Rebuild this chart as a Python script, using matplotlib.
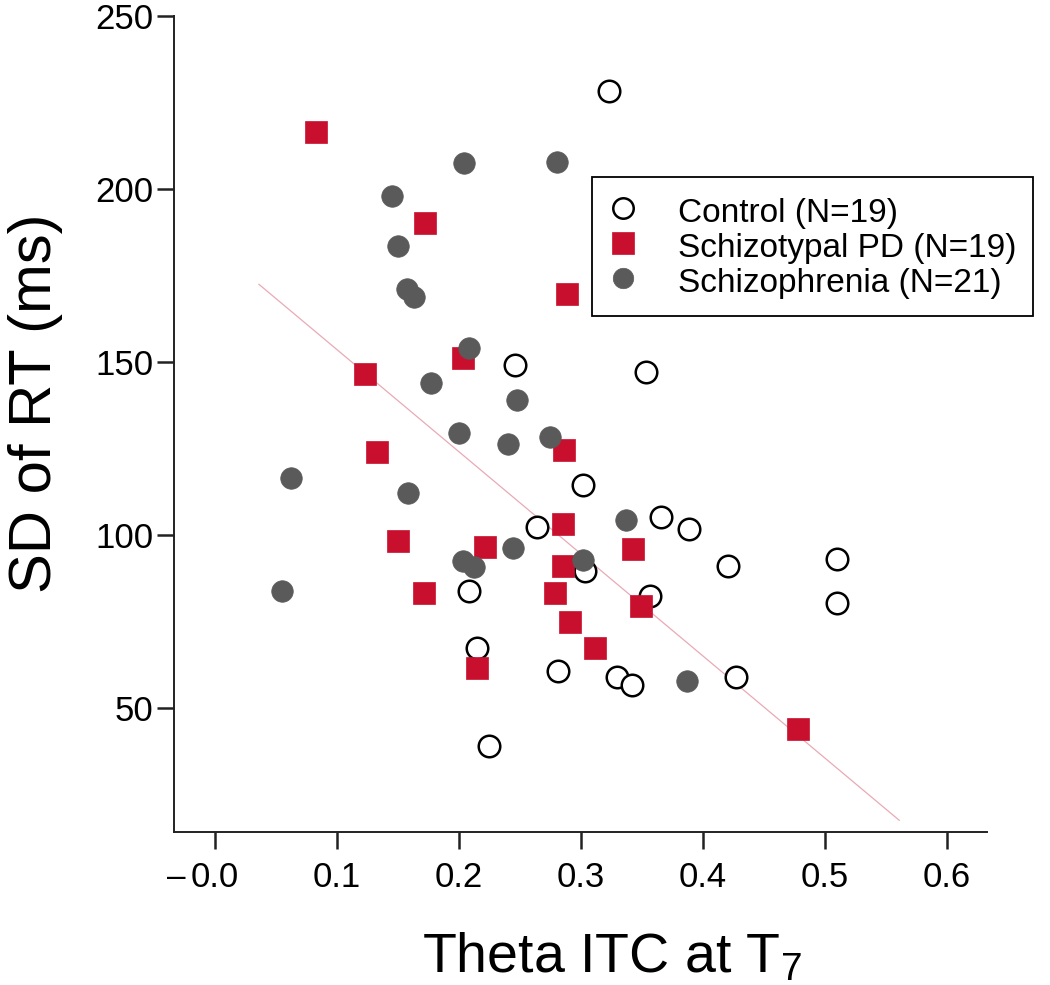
import matplotlib
matplotlib.use('Agg')
import matplotlib.pyplot as plt

plt.rcParams['font.family'] = ['Liberation Sans', 'DejaVu Sans']
plt.rcParams['mathtext.fontset'] = 'custom'
plt.rcParams['mathtext.rm'] = 'Liberation Sans'
plt.rcParams['mathtext.it'] = 'Liberation Sans'

# Theta ITC at T7 (x) vs SD of RT in ms (y)
ctrl_x = [0.323, 0.353, 0.246, 0.302, 0.264, 0.303, 0.2085, 0.215, 0.281, 0.225,
          0.366, 0.389, 0.421, 0.510, 0.510, 0.357, 0.330, 0.342, 0.427]
ctrl_y = [228.2, 147.1, 149.1, 114.4, 102.2, 89.5, 83.8, 67.4, 60.8, 39.0,
          105.3, 101.7, 91.1, 93.0, 80.4, 82.4, 58.9, 56.8, 59.0]

spd_x = [0.083, 0.172, 0.289, 0.2035, 0.123, 0.286, 0.1325, 0.285, 0.150, 0.221,
         0.2855, 0.171, 0.279, 0.291, 0.3115, 0.215, 0.343, 0.349, 0.478]
spd_y = [216.3, 190.2, 169.5, 151.2, 146.4, 124.5, 123.9, 103.1, 98.3, 96.6,
         91.1, 83.3, 83.1, 74.9, 67.3, 61.5, 95.9, 79.6, 44.1]

scz_x = [0.204, 0.280, 0.145, 0.150, 0.157, 0.163, 0.208, 0.177, 0.248, 0.200,
         0.240, 0.275, 0.062, 0.158, 0.2445, 0.2035, 0.2126, 0.302, 0.055, 0.337, 0.387]
scz_y = [207.4, 207.8, 197.9, 183.6, 171.0, 168.6, 153.9, 143.8, 139.0, 129.4,
         126.3, 128.4, 116.4, 112.2, 96.1, 92.5, 90.8, 92.8, 83.8, 104.3, 57.8]

# regression line end points
fit_x = [0.036, 0.561]
fit_y = [172.4, 17.6]

x_ticks = [0.0, 0.1, 0.2, 0.3, 0.4, 0.5, 0.6]
y_ticks = [50, 100, 150, 200, 250]

red = '#c8102e'
gray = '#5a5a5a'

fig = plt.figure(figsize=(10.5, 9.85), dpi=100)
ax = fig.add_axes([0.166, 0.1553, 0.774, 0.8288])

ax.plot(fit_x, fit_y, color='#e9aab5', lw=0.9, zorder=1)

ax.plot(ctrl_x, ctrl_y, 'o', ms=15.5, mfc='white', mec='black', mew=1.8,
        ls='none', label='Control (N=19)', zorder=3)
ax.plot(spd_x, spd_y, 's', ms=16.5, mfc=red, mec=red, mew=0.5,
        ls='none', label='Schizotypal PD (N=19)', zorder=3)
ax.plot(scz_x, scz_y, 'o', ms=15.5, mfc=gray, mec=gray, mew=0.5,
        ls='none', label='Schizophrenia (N=21)', zorder=3)

ax.set_xlim(-0.0334, 0.633)
ax.set_ylim(14.2, 250)
ax.set_xticks(x_ticks)
ax.set_xticklabels(['%.1f' % v for v in x_ticks])
ax.set_yticks(y_ticks)

for s in ['top', 'right']:
    ax.spines[s].set_visible(False)
for s in ['left', 'bottom']:
    ax.spines[s].set_linewidth(1.4)
    ax.spines[s].set_color('#222222')
ax.tick_params(axis='both', direction='out', length=12, width=1.8,
               labelsize=25, color='#222222')
ax.tick_params(axis='x', pad=9)
ax.tick_params(axis='y', pad=3)

# stray dash in front of the first x label
ax.text(-0.024, -0.056, '\u2013', transform=ax.get_xaxis_transform(),
        ha='right', va='center', fontsize=24)

fig.text(0.034, 0.591, 'SD of RT (ms)', rotation=90, fontsize=43,
         ha='center', va='center')
fig.text(0.5824, 0.0132, 'Theta ITC at T$_7$', fontsize=40,
         ha='center', va='baseline')

leg = ax.legend(loc='upper left', bbox_to_anchor=(0.5638, 0.8203),
                bbox_transform=fig.transFigure, borderaxespad=0,
                fontsize=24, frameon=True, fancybox=False, framealpha=1,
                edgecolor='black', borderpad=0.5, labelspacing=0.01,
                handlelength=0.87, handleheight=1.16, handletextpad=1.2,
                markerscale=0.95)
leg.get_frame().set_linewidth(1.3)

fig.savefig('out.png', dpi=100)
